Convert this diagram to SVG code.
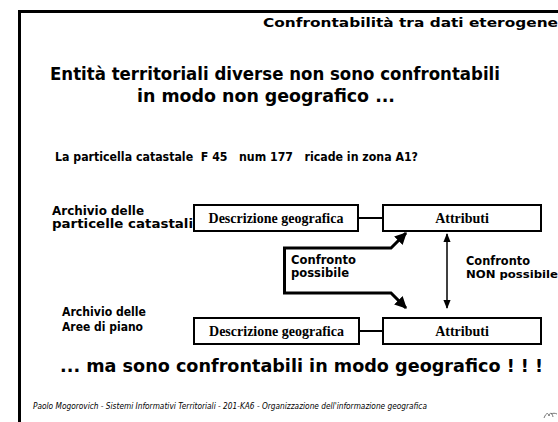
<svg xmlns="http://www.w3.org/2000/svg" width="558" height="422" viewBox="0 0 558 422">
<style>
.c{font-family:"Comic Sans MS","DejaVu Sans",sans-serif;font-weight:bold;fill:#000;white-space:pre}
.ci{font-family:"Comic Sans MS","DejaVu Sans",sans-serif;font-style:italic;fill:#000;white-space:pre}
.t{font-family:"Liberation Serif","Times New Roman",serif;font-weight:bold;font-size:14px;fill:#000;text-anchor:middle}
.box{fill:#fff;stroke:#000;stroke-width:2}
.ln{fill:none;stroke:#000;stroke-width:2}
</style>
<defs>
<marker id="ah" viewBox="0 0 10 10" refX="9" refY="5" markerWidth="4" markerHeight="4" orient="auto-start-reverse" markerUnits="strokeWidth">
<path d="M0,0 L10,5 L0,10 z" fill="#000"/>
</marker>
<marker id="ah2" viewBox="0 0 10 10" refX="9" refY="5" markerWidth="6" markerHeight="6" orient="auto-start-reverse" markerUnits="strokeWidth">
<path d="M0,1 L10,5 L0,9 z" fill="#000"/>
</marker>
</defs>
<rect width="558" height="422" fill="#fff"/>
<path d="M19.5,422 V11.5 H558" fill="none" stroke="#000" stroke-width="3"/>
<text class="c" x="263" y="27" font-size="12.5" textLength="295" lengthAdjust="spacingAndGlyphs">Confrontabilità tra dati eterogene</text>
<text class="c" x="50" y="80" font-size="17.5" textLength="450" lengthAdjust="spacingAndGlyphs">Entità territoriali diverse non sono confrontabili</text>
<text class="c" x="137" y="102" font-size="17.5" textLength="258" lengthAdjust="spacingAndGlyphs">in modo non geografico ...</text>
<text class="c" x="55" y="161" font-size="12" textLength="363" lengthAdjust="spacingAndGlyphs">La particella catastale  F 45   num 177   ricade in zona A1?</text>
<g id="archivio1">
<text class="c" x="52" y="215" font-size="11.5" textLength="92" lengthAdjust="spacingAndGlyphs">Archivio delle</text>
<text class="c" x="52" y="228" font-size="11.5" textLength="141" lengthAdjust="spacingAndGlyphs">particelle catastali</text>
</g>
<g id="archivio2">
<text class="c" x="62" y="316" font-size="11.5" textLength="84" lengthAdjust="spacingAndGlyphs">Archivio delle</text>
<text class="c" x="62" y="331" font-size="11.5" textLength="81" lengthAdjust="spacingAndGlyphs">Aree di piano</text>
</g>
<g id="connectors">
<line class="ln" x1="358" y1="218" x2="383" y2="218"/>
<line class="ln" x1="359" y1="331" x2="383" y2="331"/>
<polyline points="406,233 391,248 284.5,248 284.5,293 391,293 406,308" fill="none" stroke="#000" stroke-width="3" stroke-linejoin="miter" marker-start="url(#ah)" marker-end="url(#ah)"/>
<line x1="447" y1="234" x2="447" y2="308" stroke="#000" stroke-width="1.5" marker-start="url(#ah2)" marker-end="url(#ah2)"/>
</g>
<g id="geo1">
<rect class="box" x="194" y="205" width="164" height="26"/>
<text class="t" x="276" y="223">Descrizione geografica</text>
</g>
<g id="attr1">
<rect class="box" x="383" y="205" width="158" height="26"/>
<text class="t" x="462" y="223">Attributi</text>
</g>
<g id="geo2">
<rect class="box" x="194" y="318" width="165" height="26"/>
<text class="t" x="276.5" y="336">Descrizione geografica</text>
</g>
<g id="attr2">
<rect class="box" x="383" y="318" width="158" height="26"/>
<text class="t" x="462" y="336">Attributi</text>
</g>
<g id="label-possibile">
<text class="c" x="291" y="264" font-size="11.5" textLength="65" lengthAdjust="spacingAndGlyphs">Confronto</text>
<text class="c" x="291" y="277" font-size="11.5" textLength="58" lengthAdjust="spacingAndGlyphs">possibile</text>
</g>
<g id="label-non">
<text class="c" x="466" y="265" font-size="11.5" textLength="64" lengthAdjust="spacingAndGlyphs">Confronto</text>
<text class="c" x="466" y="278" font-size="11" textLength="92" lengthAdjust="spacingAndGlyphs">NON possibile</text>
</g>
<text class="c" x="60" y="372" font-size="17.5" textLength="483" lengthAdjust="spacingAndGlyphs">... ma sono confrontabili in modo geografico ! ! !</text>
<text class="ci" x="33" y="409" font-size="8" textLength="394" lengthAdjust="spacingAndGlyphs">Paolo Mogorovich - Sistemi Informativi Territoriali - 201-KA6 - Organizzazione dell'informazione geografica</text>
<path d="M544,418 C546,413 548,412 549,416 C550,412 552,412 553,417 M551,414 C553,413 555,413 557,414" fill="none" stroke="#555" stroke-width="0.8"/>
</svg>
